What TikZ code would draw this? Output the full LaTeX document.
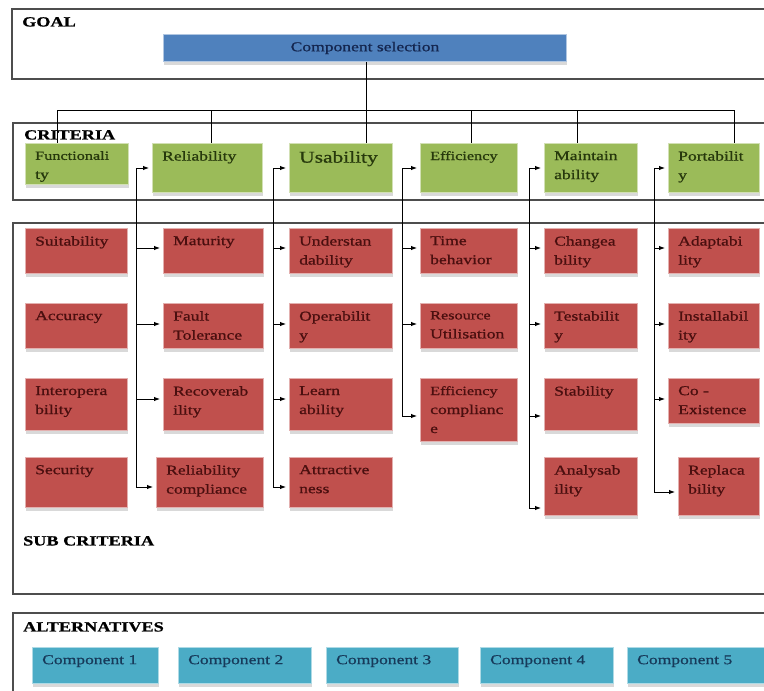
\documentclass[tikz,border=0pt]{standalone}
\usepackage{fontspec}
\setmainfont{Liberation Serif}[FakeStretch=1.3, FakeBold=0.9]
\usetikzlibrary{arrows.meta,shadows}
\definecolor{goalblue}{HTML}{4F81BD}
\definecolor{critgreen}{HTML}{9BBB59}
\definecolor{subred}{HTML}{C0504D}
\definecolor{alttea}{HTML}{4BACC6}
\definecolor{redtxt}{HTML}{4A0F0F}
\definecolor{greentxt}{HTML}{26380C}
\definecolor{bluetxt}{HTML}{14264F}
\definecolor{tealtxt}{HTML}{173A5A}
\definecolor{framec}{HTML}{4D4D4D}
\tikzset{
  frame/.style={draw=framec, line width=1.2pt},
  header/.style={font=\fontsize{14}{16}\selectfont\bfseries, text=black, inner sep=0pt, anchor=north west},
  shad/.style={drop shadow={shadow xshift=0pt, shadow yshift=-3pt, fill=black, opacity=0.15}},
  redbox/.style={fill=subred, draw=subred!45!white, line width=1pt, shad},
  redboxtxt/.style={font=\fontsize{13.5}{19}\selectfont, text=redtxt, align=left, inner sep=0pt},
  greenbox/.style={fill=critgreen, draw=critgreen!45!white, line width=1pt, shad},
  greenboxtxt/.style={font=\fontsize{13.5}{19}\selectfont, text=greentxt, align=left, inner sep=0pt},
  tealbox/.style={fill=alttea, draw=alttea!45!white, line width=1pt, shad},
  tealboxtxt/.style={font=\fontsize{13.5}{19}\selectfont, text=tealtxt, align=left, inner sep=0pt},
  conn/.style={draw=black, line width=0.9pt},
  arr/.style={conn, -{Latex[length=6pt,width=4.5pt]}, shorten >=3pt},
}
% style, name, x, y, w, h, text
\newcommand\bx[7]{%
  \node[#1, minimum width=#5pt, minimum height=#6pt, anchor=north west, inner sep=0pt] (#2) at (#3,#4) {};
  \node[#1txt, anchor=north west] (#2t) at ([xshift=10pt,yshift=-8pt]#2.north west) {#7};}
\begin{document}
\begin{tikzpicture}[x=1pt,y=-1pt]
\useasboundingbox (0,0) rectangle (764,691);
\clip (0,0) rectangle (764,691);
\fill[white] (0,0) rectangle (764,691);
% frames
\draw[frame] (12,9) rectangle (800,79);
\draw[frame] (13,123) rectangle (800,200);
\draw[frame] (13,223) rectangle (800,594);
\draw[frame] (13,613) rectangle (800,720);
\node[header] (hgoal) at (22,17) {GOAL};
\node[header] (hcrit) at (24,130) {CRITERIA};
\node[header] (hsub) at (23,536) {SUB CRITERIA};
\node[header] (halt) at (23,622) {ALTERNATIVES};
% goal
\node[fill=goalblue, draw=goalblue!45!white, line width=1pt, shad, minimum width=403pt, minimum height=27pt, anchor=north west, inner sep=0pt,
  font=\fontsize{13.5}{16}\selectfont, text=bluetxt] (cs) at (163,34) {Component selection};
% criteria
\bx{greenbox}{fun}{25}{143}{103}{41}{\fontsize{12.5}{18}\selectfont Functionali\\ty}
\bx{greenbox}{rel}{152}{143}{110}{49}{Reliability}
\bx{greenbox}{use}{289}{143}{103}{49}{\fontsize{16.5}{19}\selectfont Usability}
\bx{greenbox}{eff}{420}{143}{97}{49}{\fontsize{12.5}{18}\selectfont Efficiency}
\bx{greenbox}{mai}{544}{143}{93}{49}{Maintain\\ability}
\bx{greenbox}{por}{668}{143}{91}{49}{Portabilit\\y}
% sub criteria col 1
\bx{redbox}{sui}{25}{228}{102}{45}{Suitability}
\bx{redbox}{acc}{25}{303}{102}{45}{Accuracy}
\bx{redbox}{int}{25}{378}{102}{52}{Interopera\\bility}
\bx{redbox}{sec}{25}{457}{102}{50}{Security}
% col 2
\bx{redbox}{mat}{163}{228}{100}{45}{Maturity}
\bx{redbox}{fau}{163}{303}{100}{45}{Fault\\Tolerance}
\bx{redbox}{rec}{163}{378}{100}{52}{Recoverab\\ility}
\bx{redbox}{rcm}{156}{457}{107}{50}{Reliability\\compliance}
% col 3
\bx{redbox}{und}{289}{228}{103}{45}{Understan\\dability}
\bx{redbox}{ope}{289}{303}{103}{45}{Operabilit\\y}
\bx{redbox}{lea}{289}{378}{103}{52}{Learn\\ability}
\bx{redbox}{att}{289}{457}{103}{50}{Attractive\\ness}
% col 4
\bx{redbox}{tim}{420}{228}{97}{45}{Time\\behavior}
\bx{redbox}{res}{420}{303}{97}{45}{\fontsize{12.5}{18}\selectfont Resource\\Utilisation}
\bx{redbox}{ecm}{420}{378}{97}{63}{\fontsize{12.5}{18}\selectfont Efficiency\\complianc\\e}
% col 5
\bx{redbox}{cha}{544}{228}{93}{45}{Changea\\bility}
\bx{redbox}{tes}{544}{303}{93}{45}{Testabilit\\y}
\bx{redbox}{sta}{544}{378}{93}{52}{Stability}
\bx{redbox}{ana}{544}{457}{93}{58}{Analysab\\ility}
% col 6
\bx{redbox}{ada}{668}{228}{91}{45}{Adaptabi\\lity}
\bx{redbox}{ins}{668}{303}{91}{45}{Installabil\\ity}
\bx{redbox}{coe}{668}{378}{91}{45}{Co -\\Existence}
\bx{redbox}{rep}{678}{457}{81}{58}{Replaca\\bility}
% alternatives
\bx{tealbox}{c1}{32}{647}{126}{36}{Component 1}
\bx{tealbox}{c2}{178}{647}{133}{36}{Component 2}
\bx{tealbox}{c3}{326}{647}{132}{36}{Component 3}
\bx{tealbox}{c4}{480}{647}{133}{36}{Component 4}
\bx{tealbox}{c5}{627}{647}{150}{36}{Component 5}
% bus from goal to criteria
\coordinate (d1) at (57,110);
\coordinate (d2) at (211,110);
\coordinate (d3) at (366,110);
\coordinate (d4) at (471,110);
\coordinate (d5) at (577,110);
\coordinate (d6) at (734,110);
\draw[conn] (cs.south -| d3) -- (d3);
\draw[conn] (d1) -- (d6);
\foreach \d/\b in {d1/fun, d2/rel, d3/use, d4/eff, d5/mai, d6/por}
  \draw[conn] (\d) -- (\d |- \b.north);
% spines from criteria to sub criteria
\foreach \sx/\ylist in {136/{168/rel,248/mat,324/fau,399/rec,487/rcm},
                        273/{168/use,248/und,324/ope,399/lea,487/att},
                        402/{168/eff,248/tim,324/res,416/ecm},
                        529/{168/mai,248/cha,324/tes,416/sta,508/ana},
                        654/{168/por,248/ada,324/ins,399/coe,492/rep}} {
  \foreach \yy/\b [count=\i] in \ylist {
    \coordinate (sp\i) at (\sx,\yy);
    \draw[arr] (sp\i) -- (sp\i -| \b.west);
    \ifnum\i>1 \draw[conn] (sp1) -- (sp\i); \fi
  }
}
\end{tikzpicture}
\end{document}
